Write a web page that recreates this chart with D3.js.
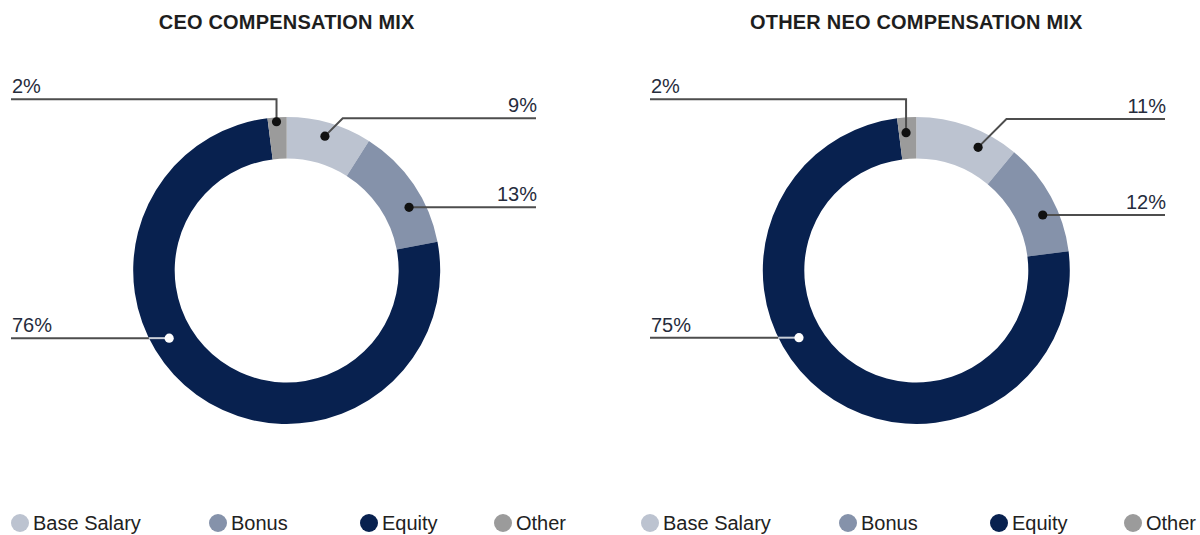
<!DOCTYPE html>
<html><head><meta charset="utf-8">
<script src="https://cdn.jsdelivr.net/npm/d3@7"></script>
<style>body{margin:0;background:#fff} svg{display:block}</style>
</head><body><svg id="c" width="1200" height="535"></svg>
<script>
// ---- data ----
const categories = ["Base Salary", "Bonus", "Equity", "Other"];
const ceoValues = [9, 13, 76, 2];
const neoValues = [11, 12, 75, 2];
const chartTitles = ["CEO COMPENSATION MIX", "OTHER NEO COMPENSATION MIX"];
const colors = ["#bcc3d0", "#8592aa", "#08214f", "#9b9b9b"];

// ---- layout (positions only) ----
const layout = [
  { values: ceoValues, title: chartTitles[0], cx: 286.7, cy: 270.5, left: 11, right: 536, legendX: 20,
    leaders: [
      { frac: 0.49,  r: 139.7, side: "right", lineY: 118.3 },
      { frac: 0.647, r: 137.7, side: "right" },
      { frac: 0.588, r: 135.6, side: "left" },
      { frac: 0.456, r: 149.1, side: "left", lineY: 99.3, vertical: true }
    ] },
  { values: neoValues, title: chartTitles[1], cx: 916.3, cy: 270.5, left: 650, right: 1165, legendX: 650,
    leaders: [
      { frac: 0.673, r: 137.8, side: "right", lineY: 119 },
      { frac: 0.618, r: 138.1, side: "right" },
      { frac: 0.583, r: 135.2, side: "left" },
      { frac: 0.41,  r: 138.2, side: "left", lineY: 99.3, vertical: true }
    ] }
];
const legendOffsets = [0, 198, 349, 483];
const innerR = 112, outerR = 153.5;
const font = "'Liberation Sans', Arial, Helvetica, sans-serif";

const svg = d3.select("#c");
const pie = d3.pie().sort(null).value(d => d);
const arc = d3.arc().innerRadius(innerR).outerRadius(outerR);
const color = d3.scaleOrdinal().domain(categories).range(colors);

layout.forEach(L => {
  // title
  svg.append("text")
    .attr("x", L.cx).attr("y", 28.5)
    .attr("text-anchor", "middle")
    .attr("font-family", font).attr("font-size", 20).attr("font-weight", "bold")
    .attr("letter-spacing", 0.2)
    .attr("fill", "#1e1e1e")
    .text(L.title);

  const arcs = pie(L.values);
  const g = svg.append("g").attr("transform", `translate(${L.cx},${L.cy})`);
  g.selectAll("path").data(arcs).enter().append("path")
    .attr("d", arc)
    .attr("fill", (d, i) => color(categories[i]));

  const lg = svg.append("g");
  arcs.forEach((a, i) => {
    const ld = L.leaders[i];
    const ang = a.startAngle + ld.frac * (a.endAngle - a.startAngle);
    const dx = L.cx + ld.r * Math.sin(ang);
    const dy = L.cy - ld.r * Math.cos(ang);
    const lineY = ld.lineY !== undefined ? ld.lineY : dy;
    const dark = categories[i] === "Equity";
    const lineColor = "#4d4d4d";
    let pts;
    if (ld.side === "right") {
      pts = ld.lineY !== undefined
        ? [[dx, dy], [dx + (dy - lineY), lineY], [L.right, lineY]]
        : [[dx, dy], [L.right, lineY]];
      lg.append("path").attr("d", d3.line()(pts))
        .attr("fill", "none").attr("stroke", lineColor).attr("stroke-width", 2);
    } else if (ld.vertical) {
      pts = [[L.left, lineY], [dx, lineY], [dx, dy]];
      lg.append("path").attr("d", d3.line()(pts))
        .attr("fill", "none").attr("stroke", lineColor).attr("stroke-width", 2);
    } else {
      const edgeX = L.cx - Math.sqrt(outerR * outerR - (dy - L.cy) * (dy - L.cy));
      lg.append("path").attr("d", d3.line()([[L.left, dy], [edgeX, dy]]))
        .attr("fill", "none").attr("stroke", lineColor).attr("stroke-width", 2);
      lg.append("path").attr("d", d3.line()([[edgeX, dy], [dx, dy]]))
        .attr("fill", "none").attr("stroke", dark ? "#c9ced8" : lineColor).attr("stroke-width", 2);
    }
    lg.append("circle").attr("cx", dx).attr("cy", dy).attr("r", 4.6)
      .attr("fill", dark ? "#ffffff" : "#111111");

    lg.append("text")
      .attr("x", ld.side === "right" ? L.right + 1 : L.left + 1)
      .attr("y", lineY - 6)
      .attr("text-anchor", ld.side === "right" ? "end" : "start")
      .attr("font-family", font).attr("font-size", 20)
      .attr("fill", "#262c3c")
      .text(L.values[i] + "%");
  });

  // legend
  const leg = svg.append("g");
  categories.forEach((c, i) => {
    const x = L.legendX + legendOffsets[i];
    leg.append("circle").attr("cx", x).attr("cy", 523).attr("r", 9).attr("fill", color(c));
    leg.append("text").attr("x", x + 13).attr("y", 530)
      .attr("font-family", font).attr("font-size", 20).attr("fill", "#222")
      .text(c);
  });
});
</script>
</body></html>
